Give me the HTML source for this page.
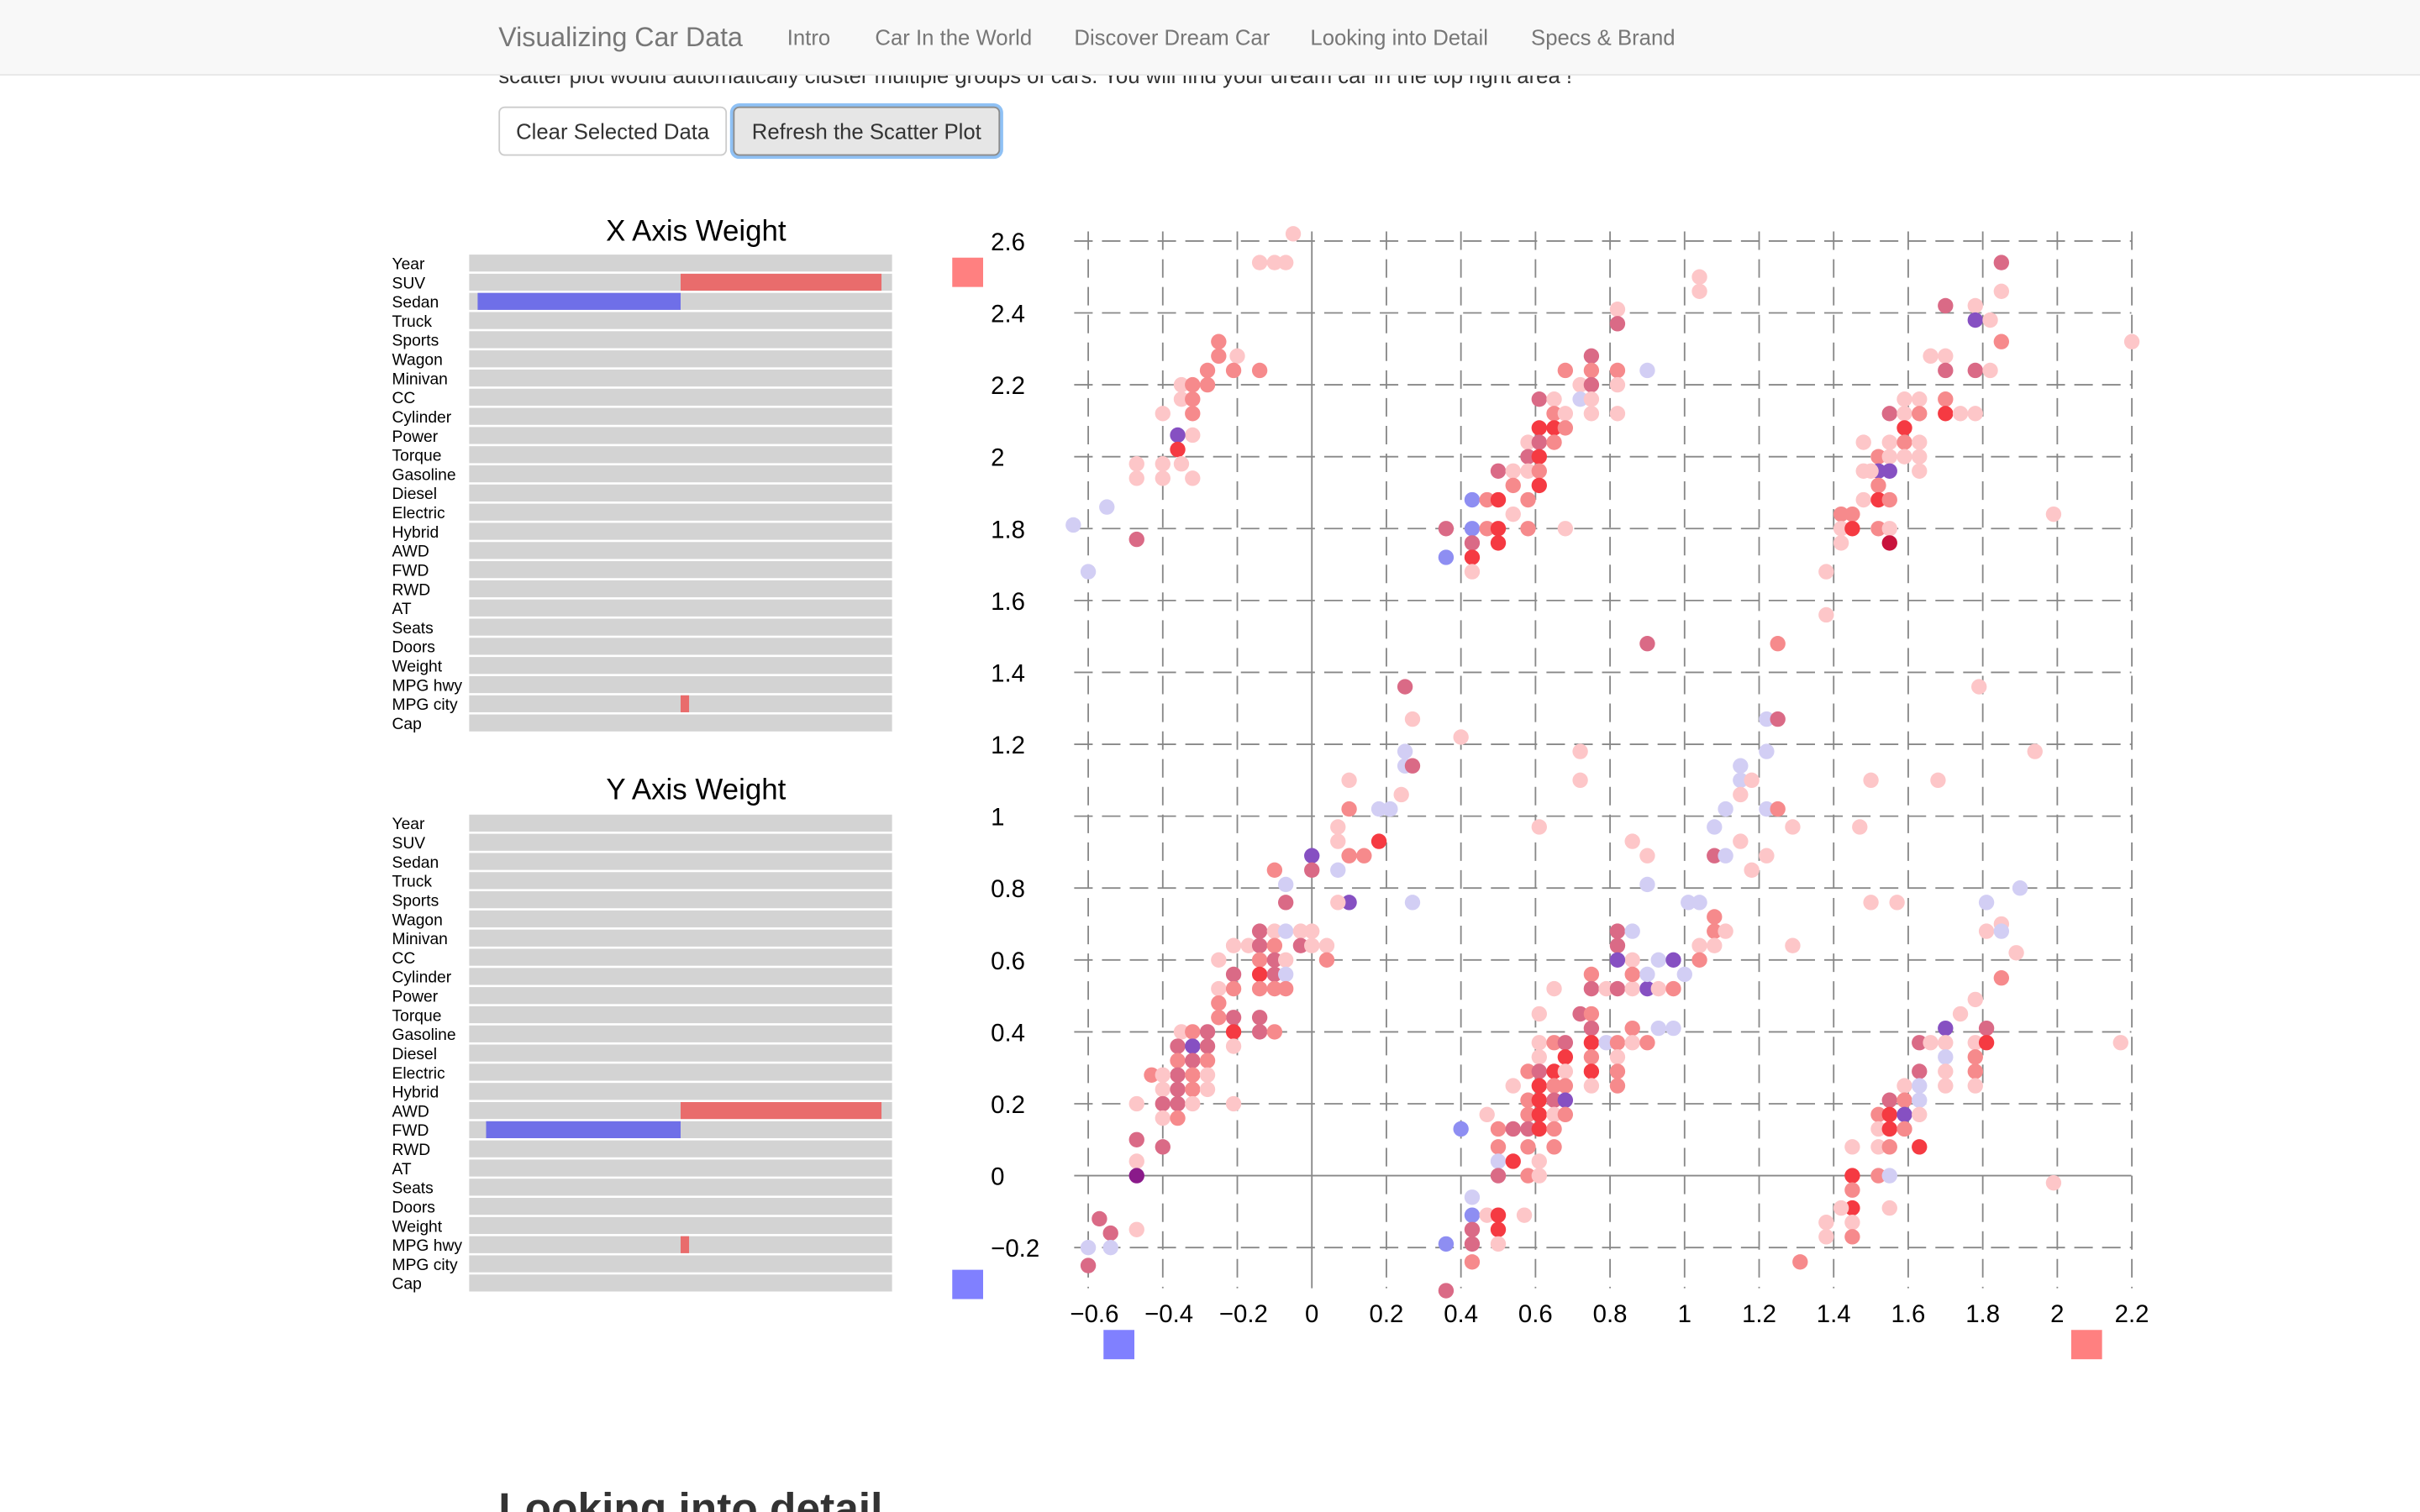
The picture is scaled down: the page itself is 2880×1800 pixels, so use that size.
<!DOCTYPE html>
<html><head><meta charset="utf-8">
<style>
html,body{margin:0;padding:0;background:#fff;width:2880px;height:1800px;overflow:hidden}
#root{position:absolute;left:0;top:0;width:1568px;height:980px;transform:scale(1.836735);transform-origin:0 0;font-family:"Liberation Sans",sans-serif;overflow:hidden}
.nav{position:absolute;left:0;top:0;width:1568px;height:48px;background:#f8f8f8;border-bottom:1px solid #e7e7e7;z-index:2}
.nav span{position:absolute;top:16px;font-size:14px;color:#777;white-space:nowrap}
.nav .brand{top:14px;font-size:17.5px}
.intro{position:absolute;left:323px;top:41px;font-size:14px;color:#333;white-space:nowrap}
.btn{position:absolute;top:69px;height:32px;box-sizing:border-box;border:1px solid #ccc;border-radius:4px;font-size:14px;color:#333;line-height:30px;text-align:center;background:#fff}
h2{position:absolute;left:323px;top:962px;margin:0;font-size:28px;font-weight:bold;color:#333;white-space:nowrap}
</style></head><body>
<div id="root">
<div class="nav">
<span class="brand" style="left:323px">Visualizing Car Data</span>
<span style="left:510px">Intro</span>
<span style="left:567px">Car In the World</span>
<span style="left:696px">Discover Dream Car</span>
<span style="left:849px">Looking into Detail</span>
<span style="left:992px">Specs &amp; Brand</span>
</div>
<div class="intro">scatter plot would automatically cluster multiple groups of cars. You will find your dream car in the top right area !</div>
<div class="btn" style="left:323px;width:148px">Clear Selected Data</div>
<div class="btn" style="left:475px;width:173px;background:#e6e6e6;border:1px solid #8c8c8c;box-shadow:0 0 0 2px #8fc1f5">Refresh the Scatter Plot</div>
<h2>Looking into detail</h2>
<svg id="svg" width="1568" height="980" style="position:absolute;left:0;top:0"></svg>
</div>
<script>
const featureNames=["Year","SUV","Sedan","Truck","Sports","Wagon","Minivan","CC","Cylinder","Power","Torque","Gasoline","Diesel","Electric","Hybrid","AWD","FWD","RWD","AT","Seats","Doors","Weight","MPG hwy","MPG city","Cap"];
const xWeights=[0,0.95,-0.96,0,0,0,0,0,0,0,0,0,0,0,0,0,0,0,0,0,0,0,0,0.04,0];
const yWeights=[0,0,0,0,0,0,0,0,0,0,0,0,0,0,0,0.95,-0.92,0,0,0,0,0,0.04,0,0];
const xTicks=[-0.6,-0.4,-0.2,0,0.2,0.4,0.6,0.8,1,1.2,1.4,1.6,1.8,2,2.2];
const yTicks=[-0.2,0,0.2,0.4,0.6,0.8,1,1.2,1.4,1.6,1.8,2,2.2,2.4,2.6];
const ptX=[-0.05,-0.14,-0.1,-0.07,-0.25,-0.25,-0.2,-0.28,-0.14,-0.21,-0.35,-0.32,-0.28,-0.35,-0.32,-0.4,-0.32,-0.32,-0.36,-0.36,-0.4,-0.47,-0.35,-0.47,-0.4,-0.32,-0.55,-0.64,-0.47,-0.6,
0.82,0.82,0.75,0.68,0.75,0.82,0.9,0.72,0.75,0.82,0.61,0.65,0.72,0.75,0.65,0.68,0.75,0.82,0.61,0.65,0.68,0.58,0.61,0.65,0.58,0.61,0.5,0.54,0.58,0.61,0.54,0.61,0.43,0.47,0.5,0.58,0.54,0.36,0.43,0.47,0.5,0.58,0.68,0.43,0.5,0.36,0.43,0.43,
1.85,1.85,1.7,1.78,1.78,1.82,1.85,1.66,1.7,1.7,1.78,1.82,1.59,1.63,1.7,1.55,1.59,1.63,1.7,1.74,1.78,1.59,1.55,1.59,1.63,1.48,1.52,1.55,1.59,1.63,1.48,1.52,1.55,1.5,1.63,1.52,1.48,1.52,1.55,1.42,1.45,1.42,1.45,1.52,1.55,1.42,1.55,1.38,1.38,1.99,
1.25,0.9,0.25,0.27,0.4,0.25,0.25,0.27,0.1,0.1,0.18,0.21,0.07,0.24,0.07,0.18,0,0.1,0.14,0,-0.07,-0.07,0.07,0.1,0.07,-0.1,0.27,
0.72,0.72,0.9,0.86,0.9,0.61,1.04,1.04,1.79,1.94,1.5,1.68,1.47,1.5,1.57,1.81,1.9,1.22,1.25,1.15,1.15,1.18,1.22,1.11,1.15,1.22,1.25,1.29,1.08,1.08,1.11,1.15,1.22,1.18,1.01,1.04,1.08,1.08,1.11,1.04,1.08,1.04,1.29,
-0.14,-0.1,-0.07,-0.03,0,-0.21,-0.17,-0.14,-0.1,-0.03,0,0.04,-0.14,-0.1,-0.07,-0.25,0.04,-0.21,-0.14,-0.1,-0.07,-0.25,-0.21,-0.14,-0.1,-0.07,-0.25,-0.21,-0.14,-0.25,-0.21,-0.14,-0.1,-0.35,-0.32,-0.28,-0.21,-0.36,-0.32,-0.28,-0.36,-0.32,-0.28,-0.36,-0.32,-0.28,-0.43,-0.4,-0.4,-0.36,-0.32,-0.28,-0.4,-0.36,-0.32,-0.47,-0.21,-0.4,-0.36,-0.47,-0.4,-0.47,-0.47,-0.47,-0.57,-0.54,-0.54,-0.6,-0.6,
0.82,0.86,0.82,0.86,0.82,0.93,0.97,0.75,0.75,0.79,0.82,0.86,0.9,0.93,0.97,0.65,1,0.86,0.9,0.61,0.72,0.75,0.75,0.86,0.93,0.97,0.61,0.65,0.68,0.75,0.79,0.82,0.86,0.9,0.61,0.68,0.75,0.82,0.58,0.61,0.65,0.68,0.75,0.82,0.54,0.61,0.65,0.68,0.75,0.82,0.58,0.61,0.65,0.68,0.47,0.58,0.61,0.65,0.68,0.5,0.54,0.58,0.61,0.65,0.4,0.5,0.58,0.65,0.5,0.54,0.61,0.5,0.58,0.61,0.43,0.43,0.47,0.5,0.43,0.5,0.57,0.36,0.43,0.5,0.43,0.36,
1.85,1.81,1.85,1.89,1.85,1.78,1.74,1.7,1.81,1.63,1.66,1.7,1.78,1.81,1.7,1.78,1.63,1.7,1.78,1.59,1.63,1.7,1.78,1.55,1.59,1.63,1.52,1.55,1.59,1.63,1.52,1.55,1.59,1.52,1.55,1.63,1.45,1.45,1.52,1.55,1.45,1.45,1.55,1.42,1.38,1.45,1.38,1.45,1.31,1.99,2.17,2.2];
const ptY=[2.62,2.54,2.54,2.54,2.32,2.28,2.28,2.24,2.24,2.24,2.2,2.2,2.2,2.16,2.16,2.12,2.12,2.06,2.06,2.02,1.98,1.98,1.98,1.94,1.94,1.94,1.86,1.81,1.77,1.68,
2.41,2.37,2.28,2.24,2.24,2.24,2.24,2.2,2.2,2.2,2.16,2.16,2.16,2.16,2.12,2.12,2.12,2.12,2.08,2.08,2.08,2.04,2.04,2.04,2,2,1.96,1.96,1.96,1.96,1.92,1.92,1.88,1.88,1.88,1.88,1.84,1.8,1.8,1.8,1.8,1.8,1.8,1.76,1.76,1.72,1.72,1.68,
2.54,2.46,2.42,2.42,2.38,2.38,2.32,2.28,2.28,2.24,2.24,2.24,2.16,2.16,2.16,2.12,2.12,2.12,2.12,2.12,2.12,2.08,2.04,2.04,2.04,2.04,2,2,2,2,1.96,1.96,1.96,1.96,1.96,1.92,1.88,1.88,1.88,1.84,1.84,1.8,1.8,1.8,1.8,1.76,1.76,1.68,1.56,1.84,
1.48,1.48,1.36,1.27,1.22,1.18,1.14,1.14,1.1,1.02,1.02,1.02,0.97,1.06,0.93,0.93,0.89,0.89,0.89,0.85,0.81,0.76,0.85,0.76,0.76,0.85,0.76,
1.18,1.1,0.89,0.93,0.81,0.97,2.5,2.46,1.36,1.18,1.1,1.1,0.97,0.76,0.76,0.76,0.8,1.27,1.27,1.14,1.1,1.1,1.18,1.02,1.06,1.02,1.02,0.97,0.97,0.89,0.89,0.93,0.89,0.85,0.76,0.76,0.72,0.68,0.68,0.64,0.64,0.6,0.64,
0.68,0.68,0.68,0.68,0.68,0.64,0.64,0.64,0.64,0.64,0.64,0.64,0.6,0.6,0.6,0.6,0.6,0.56,0.56,0.56,0.56,0.52,0.52,0.52,0.52,0.52,0.48,0.44,0.44,0.44,0.4,0.4,0.4,0.4,0.4,0.4,0.36,0.36,0.36,0.36,0.32,0.32,0.32,0.28,0.28,0.28,0.28,0.28,0.24,0.24,0.24,0.24,0.2,0.2,0.2,0.2,0.2,0.16,0.16,0.1,0.08,0.04,0,-0.15,-0.12,-0.16,-0.2,-0.2,-0.25,
0.68,0.68,0.64,0.6,0.6,0.6,0.6,0.56,0.52,0.52,0.52,0.52,0.52,0.52,0.52,0.52,0.56,0.56,0.56,0.45,0.45,0.45,0.41,0.41,0.41,0.41,0.37,0.37,0.37,0.37,0.37,0.37,0.37,0.37,0.33,0.33,0.33,0.33,0.29,0.29,0.29,0.29,0.29,0.29,0.25,0.25,0.25,0.25,0.25,0.25,0.21,0.21,0.21,0.21,0.17,0.17,0.17,0.17,0.17,0.13,0.13,0.13,0.13,0.13,0.13,0.08,0.08,0.08,0.04,0.04,0.04,0,0,0,-0.06,-0.11,-0.11,-0.11,-0.15,-0.15,-0.11,-0.19,-0.19,-0.19,-0.24,-0.32,
0.7,0.68,0.68,0.62,0.55,0.49,0.45,0.41,0.41,0.37,0.37,0.37,0.37,0.37,0.33,0.33,0.29,0.29,0.29,0.25,0.25,0.25,0.25,0.21,0.21,0.21,0.17,0.17,0.17,0.17,0.13,0.13,0.13,0.08,0.08,0.08,0.08,0,0,0,-0.04,-0.09,-0.09,-0.09,-0.13,-0.13,-0.17,-0.17,-0.24,-0.02,0.37,2.32];
const ptColor=("ppppmmpmmmpmmpmpmpvrpppppplldl"+
"pddmmmlpdp"+"dplpmppprr"+"mpdmdrdppm"+"mrbmrmpdbm"+"rmpdrbrp"+
"dpdpvpmppd"+"dpppmdpmrp"+"prpmppmppp"+"pvvppmprmm"+"mprmppRpp"+"p"+
"mddpplldpm"+"llppprvmmd"+"ldlvpml"+
"pppplppppp"+"pppppllldl"+"lpllplmpld"+"lpppllmmpp"+"pmp"+
"dplppppdmd"+"ppmdppmdrd"+"lpmmmmmddm"+"rdmpmdpdvd"+"mdmdmpmppd"+"mpddppppmd"+"dpVpddlld"+
"dldpvlvmdp"+"dpvpmplmlp"+"dmdmllpmdr"+"lmpmprmpmd"+"rprmprmmpm"+"mrdvpmrpmm"+"ddrmbmmmlr"+"pdmplbprdr"+"pbdpmd"+
"pplpmppvdd"+"ppprlmdpmp"+"lppdmlmrvp"+"prmpmrprml"+"mrpppppmmp"+"pp").split('');
</script>
<script>
const NS="http://www.w3.org/2000/svg";
const svg=document.getElementById('svg');
function mk(tag,attrs,parent){const e=document.createElementNS(NS,tag);for(const k in attrs)e.setAttribute(k,attrs[k]);(parent||svg).appendChild(e);return e;}
function panel(title,titleY,rowTop,weights,prefix){
  const g=mk('g',{});
  
  
  const t=mk('text',{x:451,y:titleY,'font-size':19,'text-anchor':'middle',fill:'#000','font-family':'Liberation Sans, sans-serif'},g);
  t.textContent=title;
  
  
  const pitch=12.42,mid=441,half=137;
  featureNames.forEach((n,i)=>{
    const y=rowTop+i*pitch;
    const key=n.toLowerCase().replace(/\s+/g,'-');
    const lab=mk('text',{x:254,y:y+9.5,'font-size':10.5,fill:'#000','font-family':'Liberation Sans, sans-serif'},g);
    lab.textContent=n;
    
    
    const bg=mk('rect',{x:304,y:y,width:274,height:11,fill:'#d3d3d3'},g);
    
    
    const w=weights[i];
    if(w!==0){
      const bw=Math.abs(w)*half;
      const b=mk('rect',{x:w>0?mid:mid-bw,y:y,width:bw,height:11,fill:w>0?'#e96c6c':'#6f6fe8'},g);
      
      
    }
  });
}
panel('X Axis Weight',156,165,xWeights,'x-axis');
panel('Y Axis Weight',518,528,yWeights,'y-axis');
const X=v=>850+v*241.5, Y=v=>762-v*233;
const grid=mk('g',{});


yTicks.forEach(v=>{
  const l=mk('line',{x1:696,x2:1381,y1:Y(v),y2:Y(v),stroke:'#888','stroke-width':1,'stroke-dasharray':v===0?'none':'12,6'},grid);
  
  
  const t=mk('text',{x:642,y:Y(v)+6,'font-size':16,fill:'#000','font-family':'Liberation Sans, sans-serif'},grid);
  t.textContent=(v<0?'\u2212'+(-v):String(v));
  
  
});
xTicks.forEach(v=>{
  const l=mk('line',{x1:X(v),x2:X(v),y1:150,y2:835,stroke:'#888','stroke-width':1,'stroke-dasharray':v===0?'none':'12,6'},grid);
  
  
  const t=mk('text',{x:X(v)+(v<0?4:0),y:857,'font-size':16,'text-anchor':'middle',fill:'#000','font-family':'Liberation Sans, sans-serif'},grid);
  t.textContent=(v<0?'\u2212'+(-v):String(v));
  
  
});
const cmap={p:'#fdc6c8',m:'#f68a8c',r:'#f53a42',R:'#c8123c',d:'#da6a86',v:'#8650c2',V:'#8a1a8a',l:'#d2cef4',b:'#8e8ef2'};
const pts=mk('g',{});


ptX.forEach((x,i)=>{
  const c=mk('circle',{cx:X(x),cy:Y(ptY[i]),r:5,fill:cmap[ptColor[i]]||'#fdc6c8'},pts);
  
  
});
[[617,167,'#ff8080','y-positive-handle'],[617,823,'#8080ff','y-negative-handle'],[715,862,'#8080ff','x-negative-handle'],[1342,862,'#ff8080','x-positive-handle']].forEach(h=>{
  const r=mk('rect',{x:h[0],y:h[1],width:20,height:19,fill:h[2]});
  
  
});
</script>
</body></html>
